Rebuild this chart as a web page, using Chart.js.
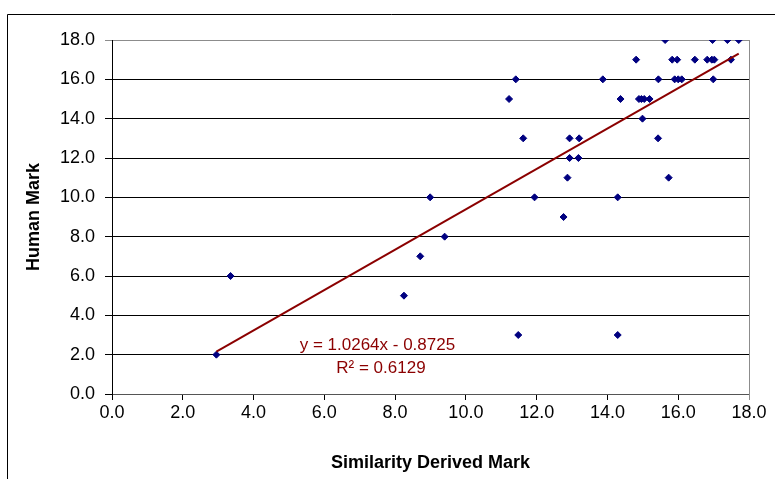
<!DOCTYPE html>
<html>
<head>
<meta charset="utf-8">
<script src="https://cdn.jsdelivr.net/npm/chart.js@4/dist/chart.umd.min.js"></script>
<style>
  html, body { margin: 0; padding: 0; background: #fff; }
  #wrap { width: 775px; height: 479px; }
</style>
</head>
<body>
<div id="wrap"><canvas id="chart" width="775" height="479"></canvas></div>
<script>
// ---- data ----
const similarityMarks = [
  15.63, 16.97, 17.39, 17.71,
  14.81, 15.83, 15.97, 16.47, 16.82, 16.95, 17.02, 17.49,
  11.41, 13.87, 15.44, 15.90, 16.00, 16.10, 16.99,
  11.22, 14.37, 14.89, 14.96, 15.04, 15.19,
  14.99,
  11.62, 12.93, 13.20, 15.43,
  12.93, 13.18,
  12.87, 15.73,
  8.99, 11.94, 14.29,
  12.76,
  9.40,
  8.71,
  3.35,
  8.25,
  11.48, 14.29,
  2.95
];
const humanMarks = [
  18, 18, 18, 18,
  17, 17, 17, 17, 17, 17, 17, 17,
  16, 16, 16, 16, 16, 16, 16,
  15, 15, 15, 15, 15, 15,
  14,
  13, 13, 13, 13,
  12, 12,
  11, 11,
  10, 10, 10,
  9,
  8,
  7,
  6,
  5,
  3, 3,
  2
];
const axisTicks = [0, 2, 4, 6, 8, 10, 12, 14, 16, 18];

// linear trendline as printed on the chart
const slope = 1.0264;
const intercept = -0.8725;
const rSquared = 0.6129;

const FONT = "'Liberation Sans', Arial, sans-serif";
const TREND_RED = '#8B0000';

const points = similarityMarks.map((x, i) => ({ x, y: humanMarks[i] }));
const xMin = Math.min(...similarityMarks);
const xMax = Math.max(...similarityMarks);
const trend = [xMin, xMax].map(x => ({ x, y: slope * x + intercept }));

// outer frame + right plot border
const framePlugin = {
  id: 'frame',
  beforeDraw(chart) {
    const ctx = chart.ctx;
    ctx.save();
    ctx.fillStyle = '#fff';
    ctx.fillRect(0, 0, chart.width, chart.height);
    ctx.strokeStyle = '#000';
    ctx.lineWidth = 1;
    ctx.beginPath();
    ctx.moveTo(7.5, chart.height);
    ctx.lineTo(7.5, 14.5);
    ctx.lineTo(chart.width, 14.5);
    ctx.stroke();
    ctx.restore();
  },
  afterDraw(chart) {
    const { right, top, bottom } = chart.chartArea;
    const ctx = chart.ctx;
    ctx.save();
    ctx.strokeStyle = '#8c8c8c';
    ctx.lineWidth = 1;
    ctx.beginPath();
    ctx.moveTo(Math.round(right) + 0.5, top);
    ctx.lineTo(Math.round(right) + 0.5, bottom + 6);
    ctx.stroke();
    ctx.restore();
  }
};

// equation label
const equationPlugin = {
  id: 'equation',
  afterDatasetsDraw(chart) {
    const xs = chart.scales.x, ys = chart.scales.y;
    const ctx = chart.ctx;
    ctx.save();
    ctx.fillStyle = TREND_RED;
    ctx.font = `17px ${FONT}`;
    ctx.textBaseline = 'middle';
    ctx.textAlign = 'center';
    const sign = intercept < 0 ? '-' : '+';
    ctx.fillText(`y = ${slope.toFixed(4)}x ${sign} ${Math.abs(intercept).toFixed(4)}`,
      xs.getPixelForValue(7.5), ys.getPixelForValue(2.48));
    ctx.fillText(`R² = ${rSquared.toFixed(4)}`,
      xs.getPixelForValue(7.6), ys.getPixelForValue(1.32));
    ctx.restore();
  }
};

new Chart(document.getElementById('chart'), {
  type: 'scatter',
  data: {
    datasets: [{
      label: 'Trend',
      type: 'line',
      data: trend,
      borderColor: TREND_RED,
      borderWidth: 2,
      pointRadius: 0,
      fill: false,
      order: 0
    }, {
      label: 'Marks',
      data: points,
      pointStyle: 'rectRot',
      pointRadius: 3.5,
      backgroundColor: '#000080',
      borderColor: '#000080',
      borderWidth: 1,
      order: 1
    }]
  },
  options: {
    responsive: false,
    animation: false,
    devicePixelRatio: 1,
    layout: { padding: { top: 40, right: 26, left: 0, bottom: 0 } },
    plugins: { legend: { display: false }, tooltip: { enabled: false } },
    scales: {
      x: {
        type: 'linear',
        min: 0, max: 18,
        afterBuildTicks: s => { s.ticks = axisTicks.map(v => ({ value: v })); },
        afterFit: s => { s.height = 479 - 394; },
        ticks: {
          color: '#000',
          font: { family: FONT, size: 18 },
          padding: 2,
          maxRotation: 0,
          callback: v => Number(v).toFixed(1)
        },
        grid: { drawOnChartArea: false, color: '#000', tickLength: 6 },
        border: { color: '#555' },
        title: {
          display: true,
          text: 'Similarity Derived Mark',
          color: '#000',
          font: { family: FONT, size: 18, weight: 'bold' },
          padding: { top: 8, bottom: 5 }
        }
      },
      y: {
        type: 'linear',
        min: 0, max: 18,
        afterBuildTicks: s => { s.ticks = axisTicks.map(v => ({ value: v })); },
        afterFit: s => { s.width = 112; },
        ticks: {
          color: '#000',
          font: { family: FONT, size: 18 },
          padding: 10,
          callback: v => Number(v).toFixed(1)
        },
        grid: {
          color: c => (c.tick && c.tick.value === 18) ? '#8c8c8c' : '#000',
          tickLength: 7
        },
        border: { color: '#000' },
        title: {
          display: true,
          text: 'Human Mark',
          color: '#000',
          font: { family: FONT, size: 18, weight: 'bold' },
          padding: { top: 23, bottom: 0 }
        }
      }
    }
  },
  plugins: [framePlugin, equationPlugin]
});
</script>
</body>
</html>
